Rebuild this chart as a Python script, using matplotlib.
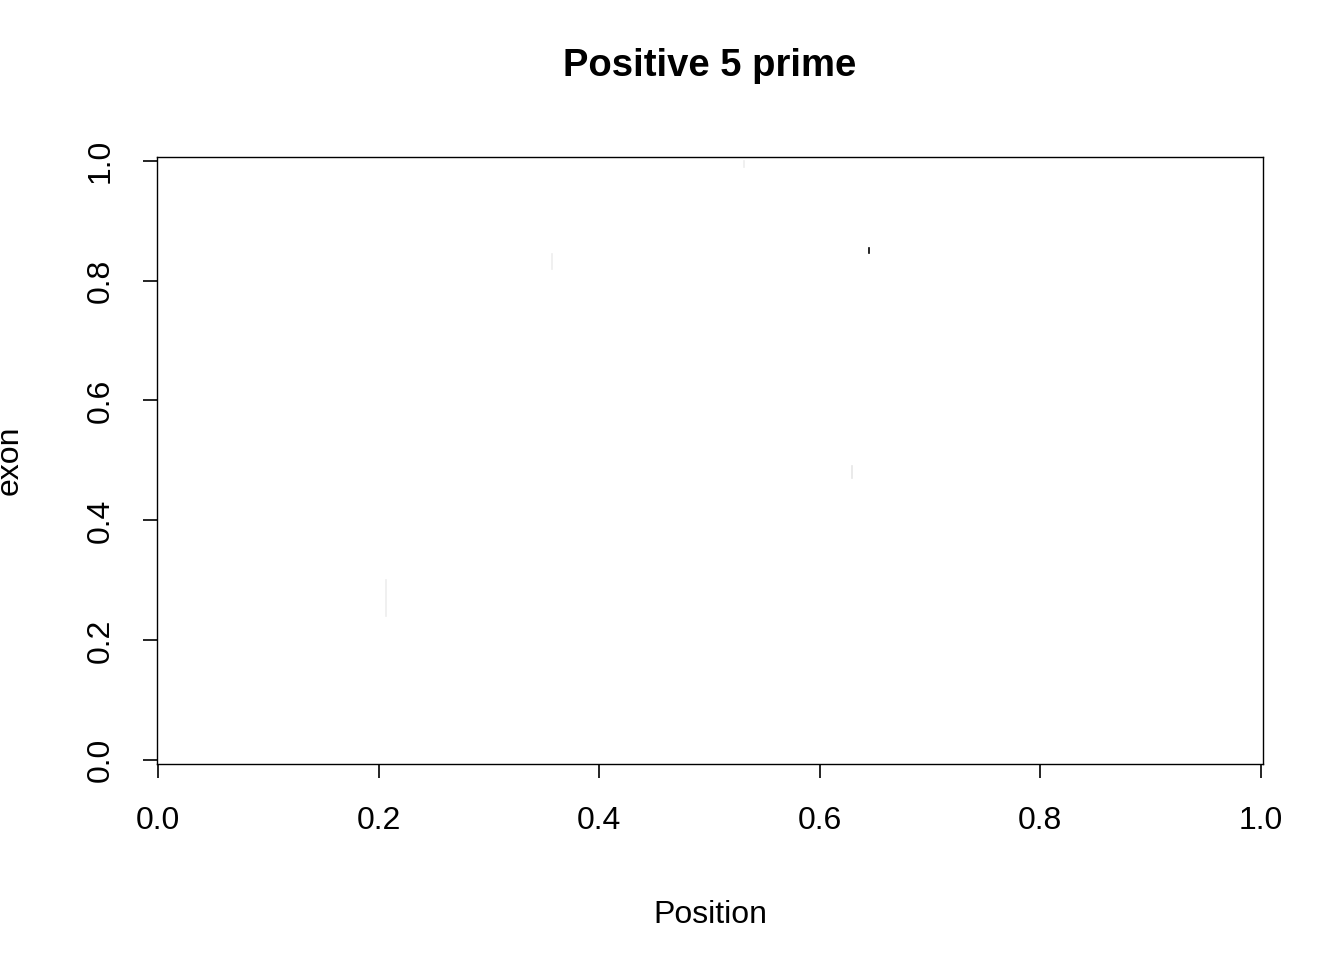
import matplotlib
matplotlib.use("Agg")
import matplotlib.pyplot as plt

plt.rcParams['font.family'] = ['Liberation Sans', 'DejaVu Sans']

# faint marks (x position, y start, y end, grey level)
mark_x = [0.645, 0.357, 0.207, 0.629, 0.531]
mark_y0 = [0.846, 0.82, 0.24, 0.47, 0.99]
mark_y1 = [0.855, 0.845, 0.30, 0.49, 1.0]
mark_grey = ['0.0', '0.93', '0.93', '0.9', '0.93']

xticks = [0.0, 0.2, 0.4, 0.6, 0.8, 1.0]
yticks = [0.0, 0.2, 0.4, 0.6, 0.8, 1.0]

fig = plt.figure(figsize=(13.44, 9.6), dpi=100)
ax = fig.add_axes([0.1168, 0.2042, 0.8229, 0.6323])
for x, a, b, c in zip(mark_x, mark_y0, mark_y1, mark_grey):
    ax.plot([x, x], [a, b], color=c, lw=1.2)
ax.set_xlim(-0.001, 1.002)
ax.set_ylim(-0.006, 1.006)
ax.set_xticks(xticks)
ax.set_xticklabels([f"{t:.1f}" for t in xticks])
ax.set_yticks(yticks)
ax.set_yticklabels([f"{t:.1f}" for t in yticks], rotation=90, va='center')
ax.tick_params(labelsize=23, length=10, width=1.2, pad=20)
for s in ax.spines.values():
    s.set_linewidth(1.0)
ax.set_xlabel("Position", fontsize=23, labelpad=46)
ax.set_ylabel("exon", fontsize=23, labelpad=44)
ax.set_title("Positive 5 prime", fontsize=27.5, fontweight='bold', pad=58)
fig.savefig("out.png", dpi=100)
